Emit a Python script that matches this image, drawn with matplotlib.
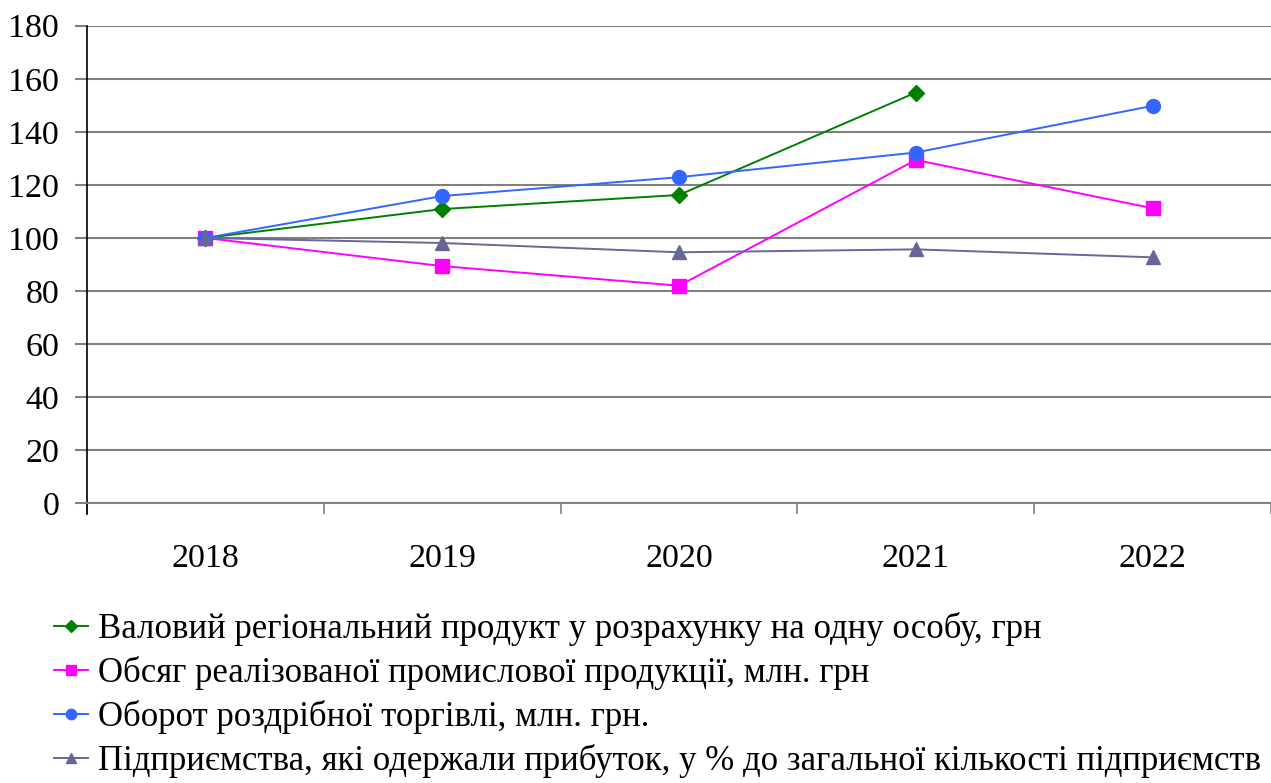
import matplotlib
matplotlib.use("Agg")
import matplotlib.pyplot as plt
from matplotlib.ticker import FixedLocator, NullFormatter

plt.rcParams['font.family'] = ['Liberation Serif', 'DejaVu Serif']

years = ['2018', '2019', '2020', '2021', '2022']
grp = [100, 110.9, 116.2, 154.8]
industrial = [100, 89.4, 82.0, 129.4, 111.2]
retail = [100, 115.8, 122.9, 132.2, 149.8]
profitable = [100, 98.1, 94.6, 95.7, 92.7]

labels = [
    'Валовий регіональний продукт у розрахунку на одну особу, грн',
    'Обсяг реалізованої промислової продукції, млн. грн',
    'Оборот роздрібної торгівлі, млн. грн.',
    'Підприємства, які одержали прибуток, у % до загальної кількості підприємств',
]

fig = plt.figure(figsize=(12.71, 7.83), dpi=100)
ax = fig.add_axes([87/1271, 1 - 503.3/783, 1 - 87/1271, (503.3 - 25.7)/783])

x = list(range(len(years)))
ax.plot(x[:len(grp)], grp, color='#008000', marker='D', markersize=8, lw=1.4, label=labels[0], zorder=3)
ax.plot(x, industrial, color='#FF00FF', marker='s', markersize=9.5, lw=1.4, label=labels[1], zorder=3)
ax.plot(x, retail, color='#3366FF', marker='o', markersize=10, lw=1.4, label=labels[2], zorder=3)
ax.plot(x, profitable, color='#666699', marker='^', markersize=10, lw=1.4, label=labels[3], zorder=3)

ax.set_xlim(-0.5, len(years) - 0.5)
ax.set_ylim(0, 180)
ax.set_yticks(range(0, 181, 20))
ax.yaxis.grid(True, color='#808080', lw=1.5)
ax.set_axisbelow(True)

ax.xaxis.set_major_locator(FixedLocator([i - 0.5 for i in range(len(years) + 1)]))
ax.xaxis.set_major_formatter(NullFormatter())
ax.set_xticks(x, minor=True)
ax.set_xticklabels(years, minor=True)
ax.tick_params(axis='x', which='major', length=8, width=1.2, color='#808080', direction='out')
ax.tick_params(axis='x', which='minor', length=0, pad=29, labelsize=24.5)
ax.tick_params(axis='y', length=9, width=1.5, color='#808080', pad=11, labelsize=24.5)

for s in ['top', 'right']:
    ax.spines[s].set_visible(False)
ax.spines['bottom'].set_color('#808080')
ax.spines['bottom'].set_linewidth(1.5)
ax.spines['left'].set_color('black')
ax.spines['left'].set_linewidth(1.2)
ax.spines['left'].set_bounds(-4, 180)

leg = fig.legend(loc='upper left', bbox_to_anchor=(54/1271, 1 - 612/783), frameon=False,
                 fontsize=25, handlelength=0.98, handletextpad=0.28, labelspacing=0.29,
                 borderpad=0, borderaxespad=0, markerscale=0.75)

fig.savefig('out.png', dpi=100)
